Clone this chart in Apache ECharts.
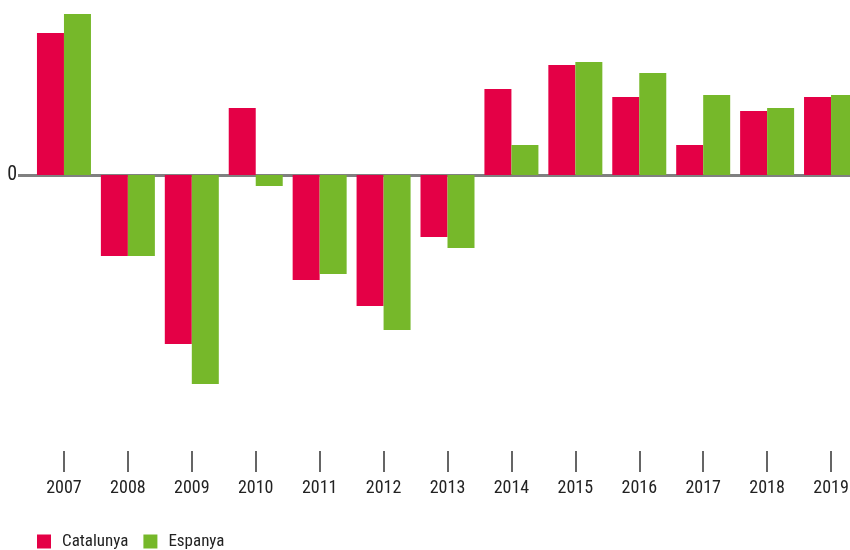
<!DOCTYPE html>
<html><head><meta charset="utf-8">
<script src="https://cdn.jsdelivr.net/npm/echarts@6/dist/echarts.min.js"></script>
<style>html,body{margin:0;padding:0;background:#fff}#c{width:850px;height:550px}</style>
</head><body><div id="c"></div>
<script>
const years = ['2007','2008','2009','2010','2011','2012','2013','2014','2015','2016','2017','2018','2019'];
const catalunya = [2.84,-1.62,-3.38,1.34,-2.10,-2.62,-1.24,1.72,2.20,1.56,0.60,1.28,1.56];
const espanya  = [3.22,-1.62,-4.18,-0.22,-1.98,-3.10,-1.46,0.60,2.26,2.04,1.60,1.34,1.60];
const yTickLabels = [0];
const FONT = '"Roboto Condensed", "Liberation Sans", sans-serif';
const chart = echarts.init(document.getElementById('c'));
chart.setOption({
  animation:false,
  backgroundColor:'#fff',
  grid:{left:32,width:831,top:0,bottom:99,containLabel:false,outerBoundsMode:'none'},
  legend:{
    left:32, top:528, itemWidth:14, itemHeight:14, itemGap:15,
    icon:'rect',
    textStyle:{fontFamily:FONT,fontSize:17,color:'#222',padding:[0,0,0,6]},
    data:['Catalunya','Espanya']
  },
  xAxis:[{
    type:'category', data:years, position:'bottom',
    axisLine:{show:false,onZero:false},
    axisTick:{show:true,alignWithLabel:true,length:21,lineStyle:{color:'#333',width:1.5}},
    axisLabel:{margin:28,fontFamily:FONT,fontSize:18,color:'#222'},
    splitLine:{show:false}
  },{
    type:'category', data:years, position:'bottom',
    axisLine:{show:true,onZero:true,lineStyle:{color:'#808080',width:3}},
    axisTick:{show:false}, axisLabel:{show:false}, splitLine:{show:false}
  }],
  yAxis:{
    type:'value', min:-5.52, max:3.5,
    axisLine:{show:false},
    splitLine:{show:false},
    axisTick:{show:true,customValues:yTickLabels,length:14,lineStyle:{color:'#808080',width:3}},
    axisLabel:{customValues:yTickLabels,margin:15,fontFamily:FONT,fontSize:20,color:'#222'}
  },
  series:[
    {name:'Catalunya',type:'bar',data:catalunya,barWidth:27,barGap:'0%',itemStyle:{color:'#E40046'}},
    {name:'Espanya',type:'bar',data:espanya,barWidth:27,barGap:'0%',itemStyle:{color:'#76B82A'}}
  ]
});
</script></body></html>
